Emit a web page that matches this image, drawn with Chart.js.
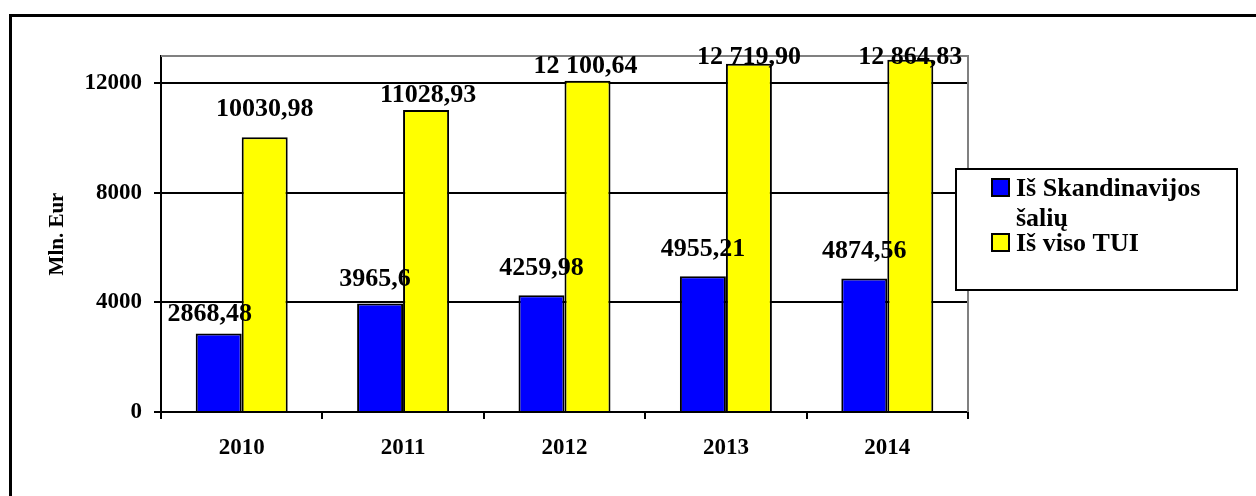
<!DOCTYPE html>
<html>
<head>
<meta charset="utf-8">
<script src="https://cdn.jsdelivr.net/npm/chart.js@4.4.1/dist/chart.umd.min.js"></script>
<style>
  body { margin: 0; background: #fff; }
  #wrap { position: relative; width: 1256px; height: 496px; overflow: hidden; }
  #frame { position: absolute; left: 9px; top: 14px; width: 1300px; height: 600px; border-left: 3px solid #000; border-top: 3px solid #000; }
  canvas { position: absolute; left: 0; top: 0; }
</style>
</head>
<body>
<div id="wrap">
  <div id="frame"></div>
  <canvas id="fdiChart" width="1256" height="496"></canvas>
</div>
<script>
const years = ["2010", "2011", "2012", "2013", "2014"];
const scandinavia = [2868.48, 3965.6, 4259.98, 4955.21, 4874.56];
const totalFdi = [10030.98, 11028.93, 12100.64, 12719.9, 12864.83];
const scandinaviaText = ["2868,48", "3965,6", "4259,98", "4955,21", "4874,56"];
const totalFdiText = ["10030,98", "11028,93", "12 100,64", "12 719,90", "12 864,83"];
const yTicks = [0, 4000, 8000, 12000];

const serif = "'Liberation Serif', 'Times New Roman', serif";

// value labels above bars, lifted per bar and kept under the plot top
const barLabels = {
  id: "barLabels",
  afterDatasetsDraw(chart, args, opts) {
    const ctx = chart.ctx;
    ctx.save();
    ctx.font = "bold 26px " + serif;
    ctx.fillStyle = "#000";
    ctx.textAlign = "center";
    ctx.textBaseline = "middle";
    chart.data.datasets.forEach((ds, i) => {
      const meta = chart.getDatasetMeta(i);
      meta.data.forEach((bar, j) => {
        const y = Math.max(bar.y - opts.lift[i][j], opts.minY);
        ctx.fillText(opts.text[i][j], bar.x + opts.shift[i][j], y);
      });
    });
    ctx.restore();
  }
};

// grey top/right edges of the plot
const plotFrame = {
  id: "plotFrame",
  beforeDatasetsDraw(chart) {
    const { ctx, chartArea: a } = chart;
    ctx.save();
    ctx.strokeStyle = "#808080";
    ctx.lineWidth = 2;
    ctx.beginPath();
    ctx.moveTo(a.left, a.top);
    ctx.lineTo(a.right, a.top);
    ctx.lineTo(a.right, a.bottom);
    ctx.stroke();
    ctx.restore();
  }
};

// boxed legend with wrapped labels
const boxLegend = {
  id: "boxLegend",
  afterDraw(chart, args, opts) {
    const ctx = chart.ctx;
    ctx.save();
    ctx.fillStyle = "#fff";
    ctx.fillRect(opts.x, opts.y, opts.w, opts.h);
    ctx.strokeStyle = "#000";
    ctx.lineWidth = 2;
    ctx.strokeRect(opts.x, opts.y, opts.w, opts.h);
    ctx.font = "bold 26px " + serif;
    ctx.textBaseline = "alphabetic";
    ctx.textAlign = "left";
    let base = opts.firstBaseline;
    chart.data.datasets.forEach((ds) => {
      ctx.fillStyle = ds.backgroundColor;
      ctx.fillRect(opts.x + 36, base - 17, 17, 17);
      ctx.lineWidth = 2;
      ctx.strokeRect(opts.x + 36, base - 17, 17, 17);
      const lines = [];
      let line = "";
      ds.label.split(" ").forEach((word) => {
        const test = line ? line + " " + word : word;
        if (line && ctx.measureText(test).width > opts.textWidth) {
          lines.push(line);
          line = word;
        } else {
          line = test;
        }
      });
      lines.push(line);
      ctx.fillStyle = "#000";
      lines.forEach((l) => {
        ctx.fillText(l, opts.x + 60, base);
        base += opts.lineGap;
      });
      base -= 5;
    });
    ctx.restore();
  }
};

const ctx = document.getElementById("fdiChart").getContext("2d");
const fdiChart = new Chart(ctx, {
  type: "bar",
  data: {
    labels: years,
    datasets: [
      {
        label: "Iš Skandinavijos šalių",
        data: scandinavia,
        backgroundColor: "#0000ff",
        borderColor: "#000",
        borderWidth: 2,
        categoryPercentage: 0.57,
        barPercentage: 1,
      },
      {
        label: "Iš viso TUI",
        data: totalFdi,
        backgroundColor: "#ffff00",
        borderColor: "#000",
        borderWidth: 2,
        categoryPercentage: 0.57,
        barPercentage: 1,
      },
    ],
  },
  options: {
    responsive: false,
    animation: false,
    devicePixelRatio: 1,
    layout: { padding: { top: 56, right: 288, bottom: 0, left: 0 } },
    plugins: {
      legend: { display: false },
      tooltip: { enabled: false },
      barLabels: {
        text: [scandinaviaText, totalFdiText],
        lift: [[19, 24, 27, 27, 27], [28, 15, 14, 14, 14]],
        shift: [[-9, -5, 0, 0, 0], [0, 2, -2, 0, 0]],
        minY: 57,
      },
      boxLegend: { x: 956, y: 169, w: 281, h: 121, firstBaseline: 196, lineGap: 30, textWidth: 205 },
    },
    scales: {
      x: {
        grid: { drawOnChartArea: false, color: "#000", lineWidth: 2, tickLength: 7 },
        border: { color: "#000", width: 2 },
        ticks: { color: "#000", font: { family: serif, size: 23, weight: "bold" }, padding: 15 },
        afterFit: (s) => { s.height = 84; },
      },
      y: {
        min: 0,
        max: 13000,
        afterBuildTicks: (s) => { s.ticks = yTicks.map((v) => ({ value: v })); },
        grid: { color: "#000", lineWidth: 2, tickLength: 7 },
        border: { color: "#000", width: 2 },
        ticks: {
          color: "#000",
          font: { family: serif, size: 23, weight: "bold" },
          padding: 12,
          callback: (v) => String(v),
        },
        title: {
          display: true,
          text: "Mln. Eur",
          color: "#000",
          font: { family: serif, size: 21, weight: "bold" },
          padding: { top: 45, bottom: 0 },
        },
        afterFit: (s) => { s.width = 161; },
      },
    },
  },
  plugins: [plotFrame, barLabels, boxLegend],
});
</script>
</body>
</html>
